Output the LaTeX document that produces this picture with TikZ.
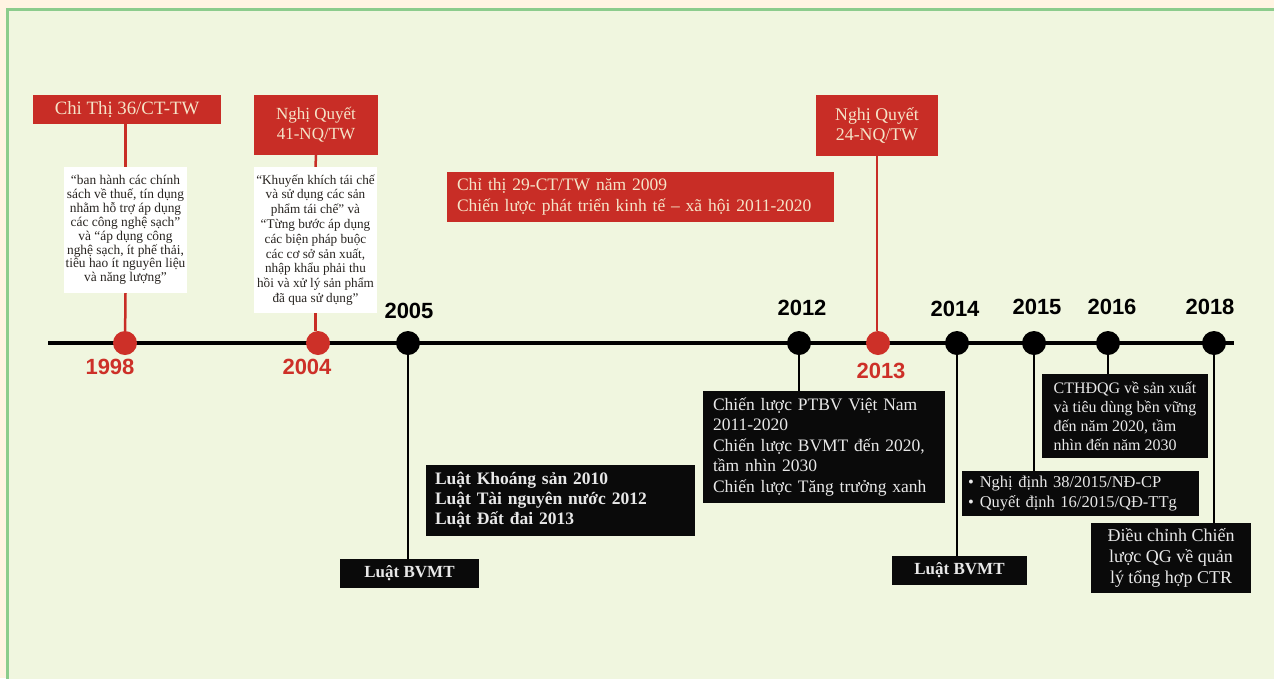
\documentclass[tikz,border=0pt]{standalone}
\usepackage{fontspec}
\setmainfont{Liberation Serif}
\newfontfamily\yearfont{Liberation Sans}
\definecolor{outercream}{RGB}{255,244,226}
\definecolor{innergreen}{RGB}{240,246,223}
\definecolor{bordergreen}{RGB}{140,204,140}
\definecolor{boxred}{RGB}{200,45,38}
\definecolor{redtext}{RGB}{245,228,200}
\definecolor{yearred}{RGB}{205,48,40}
\definecolor{wtext}{RGB}{40,36,32}
\definecolor{btext}{RGB}{232,232,232}
\definecolor{boxblack}{RGB}{10,10,10}
\begin{document}
\begin{tikzpicture}[x=1pt,y=-1pt,
  redbox/.style={fill=boxred,text=redtext,inner sep=0pt,align=center,font=\fontsize{17}{20}\selectfont},
  whitebox/.style={fill=white,text=wtext,inner sep=0pt,align=center,font=\fontsize{13.4}{13.9}\selectfont},
  blackbox/.style={fill=boxblack,text=btext,inner sep=0pt,font=\fontsize{17}{20.5}\selectfont},
  reddot/.style={circle,fill=yearred,minimum size=24pt,inner sep=0pt},
  blackdot/.style={circle,fill=black,minimum size=24pt,inner sep=0pt},
  yearlab/.style={font=\yearfont\bfseries\fontsize{22}{22}\selectfont,text=black},
  yearlabred/.style={yearlab,text=yearred},
  redconn/.style={draw=boxred,line width=2.5pt},
  blackconn/.style={draw=black,line width=2pt},
  timeline/.style={draw=black,line width=4pt}
]
\useasboundingbox (0,0) rectangle (1274,678);
\clip (0,0) rectangle (1274,678);
\fill[outercream] (0,0) rectangle (1274,678);
\draw[bordergreen,fill=innergreen,line width=3pt] (7,9) rectangle (1290,700);

% timeline
\coordinate (tlA) at (48,343);
\coordinate (tlB) at (1234,343);
\draw[timeline] (tlA) -- (tlB);

% dots
\node[reddot] (d1998) at (125,343) {};
\node[reddot] (d2004) at (318,343) {};
\node[blackdot] (d2005) at (408,343) {};
\node[blackdot] (d2012) at (799,343) {};
\node[reddot] (d2013) at (878,343) {};
\node[blackdot] (d2014) at (957,343) {};
\node[blackdot] (d2015) at (1034,343) {};
\node[blackdot] (d2016) at (1108,343) {};
\node[blackdot] (d2018) at (1214,343) {};

% year labels
\node[yearlabred] (y1998) at (110,367) {1998};
\node[yearlabred] (y2004) at (307,367) {2004};
\node[yearlab] (y2005) at (409,311) {2005};
\node[yearlab] (y2012) at (802,308) {2012};
\node[yearlabred] (y2013) at (881,371) {2013};
\node[yearlab] (y2014) at (955,309) {2014};
\node[yearlab] (y2015) at (1037,307) {2015};
\node[yearlab] (y2016) at (1112,307) {2016};
\node[yearlab] (y2018) at (1210,307) {2018};

% red boxes
\node[redbox,minimum width=188pt,minimum height=29pt,font=\fontsize{18.8}{20}\selectfont] (r36) at (127,109.5) {Chi Thị 36/CT-TW};
\node[redbox,minimum width=124pt,minimum height=60pt] (r41) at (316,125) {Nghị Quyết\\41-NQ/TW};
\node[redbox,minimum width=122pt,minimum height=61pt,font=\fontsize{17.8}{20}\selectfont] (r24) at (877,125.5) {Nghị Quyết\\24-NQ/TW};
\node[redbox,minimum width=387pt,minimum height=50pt,text width=367pt,inner xsep=10pt,align=left,font=\fontsize{17.5}{21}\selectfont] (r29) at (640.5,197) {Chỉ thị 29-CT/TW năm 2009\\Chiến lược phát triển kinh tế – xã hội 2011-2020};

% white boxes
\node[whitebox,minimum width=123pt,minimum height=126pt] (w1) at (125.5,230) {“ban hành các chính\\sách về thuế, tín dụng\\nhằm hỗ trợ áp dụng\\các công nghệ sạch”\\và “áp dụng công\\nghệ sạch, ít phế thải,\\tiêu hao ít nguyên liệu\\và năng lượng”};
\node[whitebox,minimum width=123pt,minimum height=146pt,font=\fontsize{13.2}{14.8}\selectfont] (w2) at (315.5,240) {“Khuyến khích tái chế\\và sử dụng các sản\\phẩm tái chế” và\\“Từng bước áp dụng\\các biện pháp buộc\\các cơ sở sản xuất,\\nhập khẩu phải thu\\hồi và xử lý sản phẩm\\đã qua sử dụng”};

% black boxes
\node[blackbox,minimum width=139pt,minimum height=29pt,font=\bfseries\fontsize{17}{20}\selectfont] (b2005) at (409.5,573.5) {Luật BVMT};
\node[blackbox,minimum width=269pt,minimum height=71pt,text width=251pt,inner xsep=9pt,align=left,font=\bfseries\fontsize{17.5}{20}\selectfont] (blaw) at (560.5,500.5) {Luật Khoáng sản 2010\\Luật Tài nguyên nước 2012\\Luật Đất đai 2013};
\node[blackbox,minimum width=242pt,minimum height=112pt,text width=222pt,inner xsep=10pt,align=left,font=\fontsize{17.5}{20.5}\selectfont] (b2012) at (824,447) {Chiến lược PTBV Việt Nam\\2011-2020\\Chiến lược BVMT đến 2020,\\tầm nhìn 2030\\Chiến lược Tăng trưởng xanh};
\node[blackbox,minimum width=135pt,minimum height=29pt,font=\bfseries\fontsize{17}{20}\selectfont] (b2014) at (959.5,570.5) {Luật BVMT};
\node[blackbox,minimum width=237pt,minimum height=45pt,text width=225pt,inner xsep=6pt,align=left,font=\fontsize{16.5}{20}\selectfont] (b2015) at (1080.5,493.5) {•\hspace{6pt}Nghị định 38/2015/NĐ-CP\\•\hspace{6pt}Quyết định 16/2015/QĐ-TTg};
\node[blackbox,minimum width=166pt,minimum height=84pt,align=left,font=\fontsize{16}{19}\selectfont] (b2016) at (1125,416) {CTHĐQG về sản xuất\\và tiêu dùng bền vững\\đến năm 2020, tầm\\nhìn đến năm 2030};
\node[blackbox,minimum width=160pt,minimum height=70pt,align=center,font=\fontsize{18}{21}\selectfont] (b2018) at (1171,558) {Điều chỉnh Chiến\\lược QG về quản\\lý tổng hợp CTR};

% red connectors
\draw[redconn] (r36.south -| w1.north) -- (w1.north);
\draw[redconn] (w1.south) -- (d1998);
\draw[redconn] (r41.south) -- (w2.north);
\draw[redconn] (w2.south) -- (w2.south |- d2004.north);
\draw[redconn] (r24.south) -- (r24.south |- d2013.north);

% black connectors
\draw[blackconn] (d2005) -- (d2005 |- b2005.north);
\draw[blackconn] (d2012) -- (d2012 |- b2012.north);
\draw[blackconn] (d2014) -- (d2014 |- b2014.north);
\draw[blackconn] (d2015) -- (d2015 |- b2015.north);
\draw[blackconn] (d2016) -- (d2016 |- b2016.north);
\draw[blackconn] (d2018) -- (d2018 |- b2018.north);
\end{tikzpicture}
\end{document}
